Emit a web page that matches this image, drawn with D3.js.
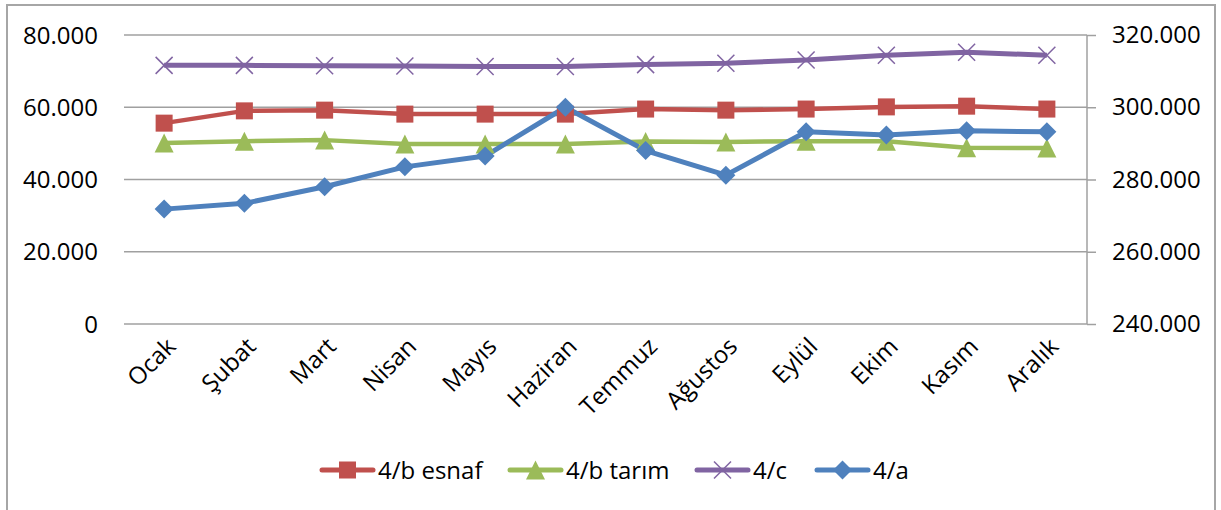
<!DOCTYPE html>
<html><head><meta charset="utf-8">
<script src="https://cdn.jsdelivr.net/npm/d3@7"></script>
<style>
body{margin:0;background:#fff;}
svg{display:block;font-family:"Open Sans",sans-serif;}
</style></head>
<body><svg id="c" width="1221" height="510"></svg>
<script>
const months = ["Ocak","Şubat","Mart","Nisan","Mayıs","Haziran","Temmuz","Ağustos","Eylül","Ekim","Kasım","Aralık"];
const esnaf = [55600,59000,59200,58100,58100,58100,59500,59200,59500,60100,60300,59500];
const tarim = [50100,50600,50900,49800,49800,49800,50500,50400,50600,50600,48800,48700];
const memur = [71600,71600,71500,71400,71300,71300,71800,72200,73100,74400,75200,74400];
const isci  = [271800,273400,278000,283500,286500,300000,288000,281200,293200,292300,293500,293200];
const leftTicks = [0,20000,40000,60000,80000];
const rightTicks = [240000,260000,280000,300000,320000];
const seriesNames = ["4/b esnaf","4/b tarım","4/c","4/a"];
const colors = ["#C0504D","#9BBB59","#8064A2","#4F81BD"];
const shapes = ["square","triangle","x","diamond"];

const svg = d3.select("#c");
const L = 124, R = 1087, T = 35, B = 324;
const FS = 24;
const fmt = v => v === 0 ? "0" : d3.format(",.3f")(v/1000).replace(/,/g,"");
const x = d3.scalePoint().domain(months).range([L,R]).padding(0.5);
const y = d3.scaleLinear().domain([0,80000]).range([B,T]);
const y2 = d3.scaleLinear().domain([240000,320000]).range([B,T]);

// outer border
svg.append("rect").attr("x",7).attr("y",5).attr("width",1208).attr("height",520)
  .attr("fill","none").attr("stroke","#A6A6A6").attr("stroke-width",2);

// gridlines
svg.append("g").selectAll("line").data(leftTicks).join("line")
  .attr("x1",L).attr("x2",R).attr("y1",d=>y(d)).attr("y2",d=>y(d))
  .attr("stroke","#A0A0A0").attr("stroke-width",1.5);

// left axis labels
svg.append("g").selectAll("text").data(leftTicks).join("text")
  .attr("x",98).attr("y",d=>y(d)).attr("dy","0.36em").attr("text-anchor","end")
  .attr("font-size",FS).attr("fill","#000").text(fmt);

// right axis
const gR = svg.append("g").attr("transform",`translate(${R},0)`)
  .call(d3.axisRight(y2).tickValues(rightTicks).tickSize(9).tickFormat(fmt).tickPadding(16));
gR.select(".domain").attr("stroke","#A0A0A0").attr("stroke-width",1.5).attr("d",`M0,${T}V${B}`);
gR.selectAll(".tick line").attr("stroke","#A0A0A0").attr("stroke-width",1.5);
gR.selectAll(".tick text").attr("font-size",FS).attr("font-family","Open Sans").attr("fill","#000");

// x labels
svg.append("g").selectAll("text").data(months).join("text")
  .attr("transform",d=>`translate(${x(d)+13},${348}) rotate(-45)`)
  .attr("text-anchor","end").attr("font-size",FS).attr("fill","#000").text(d=>d);

function marker(g, shape, color, size){
  const s = size/2;
  if(shape==="square") g.append("rect").attr("x",-s+1).attr("y",-s+1).attr("width",size-2).attr("height",size-2).attr("fill",color);
  else if(shape==="triangle") g.append("path").attr("d",`M0,${-s}L${s},${s}L${-s},${s}Z`).attr("fill",color);
  else if(shape==="diamond") g.append("path").attr("d",`M0,${-s}L${s},0L0,${s}L${-s},0Z`).attr("fill",color);
  else if(shape==="x") g.append("path").attr("d",`M${-s+1},${-s+1}L${s-1},${s-1}M${-s+1},${s-1}L${s-1},${-s+1}`).attr("stroke",color).attr("stroke-width",1.5).attr("fill","none");
}

const data = [
  {vals:esnaf, sc:y, w:4.5},
  {vals:tarim, sc:y, w:4.5},
  {vals:memur, sc:y, w:5},
  {vals:isci, sc:y2, w:5}
];
data.forEach((s,i)=>{
  const line = d3.line().x((d,j)=>x(months[j])).y(d=>s.sc(d));
  svg.append("path").datum(s.vals).attr("d",line).attr("fill","none")
    .attr("stroke",colors[i]).attr("stroke-width",s.w).attr("stroke-linejoin","round");
});
data.forEach((s,i)=>{
  s.vals.forEach((v,j)=>{
    const g = svg.append("g").attr("transform",`translate(${x(months[j])},${s.sc(v)})`);
    marker(g, shapes[i], colors[i], 19);
  });
});

// legend
const legX = [320, 508, 695, 815];
const legY = 470;
seriesNames.forEach((n,i)=>{
  const g = svg.append("g").attr("transform",`translate(${legX[i]},${legY})`);
  g.append("line").attr("x1",2).attr("x2",53).attr("y1",0).attr("y2",0)
    .attr("stroke",colors[i]).attr("stroke-width",5).attr("stroke-linecap","round");
  const m = g.append("g").attr("transform","translate(27.5,0)");
  marker(m, shapes[i], colors[i], 19);
  g.append("text").attr("x",58).attr("y",0).attr("dy","0.36em").attr("font-size",FS).attr("fill","#000").text(n);
});
</script></body></html>
